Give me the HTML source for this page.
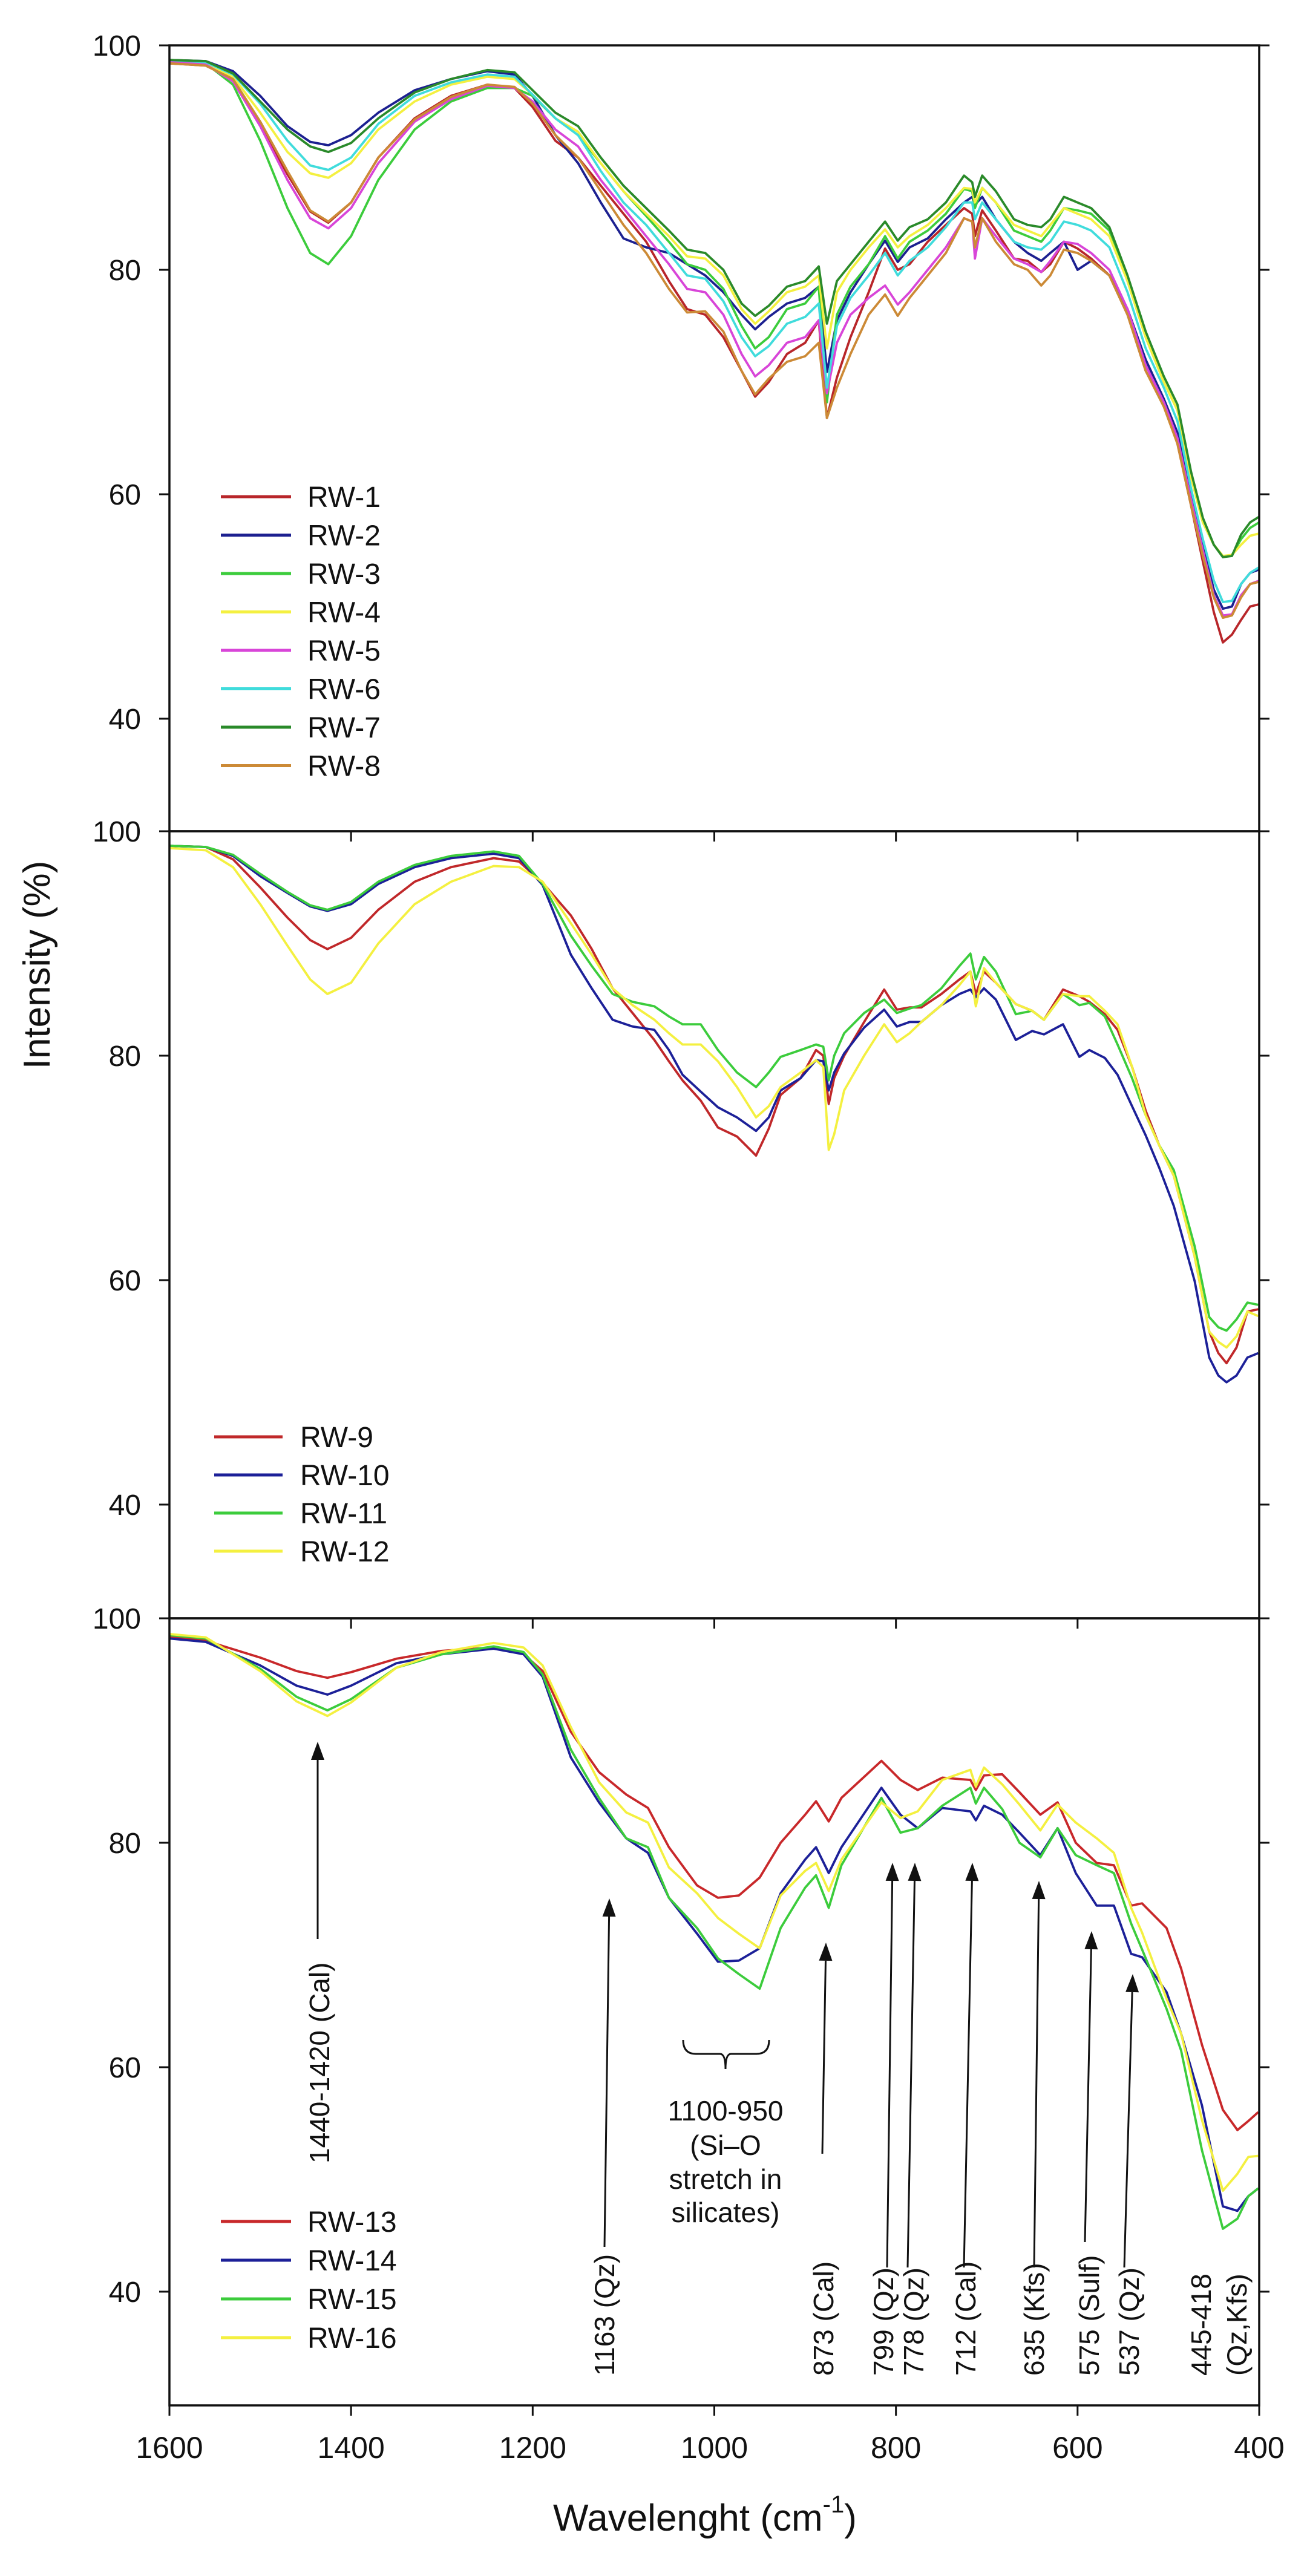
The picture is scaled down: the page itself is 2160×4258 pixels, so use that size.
<!DOCTYPE html>
<html>
<head>
<meta charset="utf-8">
<style>
  html, body { margin:0; padding:0; background:#fff; }
  svg { display:block; font-family:"Liberation Sans", Arial, sans-serif; }
</style>
</head>
<body>
<svg id="chart" xmlns="http://www.w3.org/2000/svg" width="2160" height="4258" viewBox="0 0 2160 4258">
  <rect x="0" y="0" width="2160" height="4258" fill="#fff"/>
  <g id="marks"></g>
  <text x="0" y="0" transform="translate(82,1595) rotate(-90)" text-anchor="middle" font-size="62" fill="#111">Intensity (%)</text>
  <text x="914" y="4183" font-size="62" fill="#111">Wavelenght (cm<tspan font-size="40" dy="-30">-1</tspan><tspan dy="30">)</tspan></text>
</svg>
<script>
// ---------- data ----------
const panel1Wavenumbers = [1600,1560,1530,1500,1470,1445,1425,1400,1370,1330,1290,1250,1220,1200,1175,1150,1125,1100,1075,1050,1030,1010,990,970,955,940,920,900,885,876,865,850,830,812,798,785,765,745,725,716,713,705,690,670,655,640,630,615,600,585,565,545,525,505,490,475,462,450,440,430,420,410,400];
const rw1 = [98.4,98.2,97,93,88.5,85.2,84.2,86,90,93.5,95.5,96.5,96.2,94.5,91.5,90,87.5,85,82.5,79,76.5,76,74,71,68.7,70,72.5,73.5,75.5,66.8,70.4,74,78,81.9,80,80.5,82.5,84,85.5,85,83,85.3,83.5,81,80.8,79.8,80.5,82.5,81.9,81,79.5,76,71,68,64.5,59,54,49.5,46.8,47.5,48.8,50,50.2];
const rw2 = [98.7,98.6,97.7,95.5,92.8,91.4,91.1,92,94,96,97,97.7,97.4,95.5,92,89.5,86,82.8,82,81.5,80.5,79.5,78,76,74.7,75.8,77,77.5,78.5,70.9,75.5,78,80.5,82.6,80.7,82,82.8,84.5,86,86.5,85.8,86.5,84.5,82.5,81.5,80.8,81.5,82.5,80,80.8,79.5,76.5,72,68.5,65.5,60,55.5,51.5,49.8,50,52,53,53.3];
const rw3 = [98.6,98.4,96.5,91.5,85.5,81.5,80.5,83,88,92.5,95,96.2,96.2,95.5,93.5,92,89.5,87,84.8,82.5,80.5,80,78.3,75,73,74,76.5,77,78.5,68.2,76,78.5,80.5,83,81,82.5,83.5,85,87.2,87,85.5,87.3,86,83.5,83,82.5,83.5,85.5,85.3,85,83.5,79,74,70,67.5,61.5,57.5,55.5,54.4,54.6,56,57,57.5];
const rw4 = [98.6,98.4,97.2,94,90.5,88.6,88.2,89.5,92.5,95,96.5,97.2,97,95.6,93.5,92.3,89.5,87,85,83,81.2,81,79.5,76.5,75.2,76.3,78,78.5,79.5,73,78,80,82,83.6,82,83,84,85.5,87.3,87.2,86,87.3,86,84,83.5,83,84,85.5,85,84.5,83,79,74,70,67.5,61.5,57.5,55.5,54.5,54.6,55.5,56.3,56.5];
const rw5 = [98.6,98.3,96.8,92.8,88,84.6,83.7,85.5,89.5,93.2,95.2,96.4,96.2,95,92.5,91,88,85.5,83,80.5,78.3,78,76,72.5,70.5,71.5,73.5,74,75.5,69,73.5,76,77.5,78.6,76.9,78,80,82,84.6,84.3,81,84.6,83,81,80.5,79.8,80.8,82.5,82.3,81.5,80,76.5,71.5,68.2,65,59.5,55,51,49.2,49.3,51,52,52.3];
const rw6 = [98.7,98.5,97.4,94.8,91.5,89.3,88.9,90,93,95.5,96.7,97.4,97.2,95.6,93.5,92,88.8,86,84,81.5,79.5,79.2,77.2,74,72.3,73.2,75.2,75.8,77,69.5,75,77.5,79.5,81.5,79.5,80.8,82,83.8,86,86,84.5,86,84.5,82.5,82,81.8,82.5,84.3,84,83.5,82,78,73,69.5,66.5,60.5,56,52.3,50.4,50.5,52,53,53.5];
const rw7 = [98.7,98.6,97.5,95,92.5,91,90.5,91.3,93.5,95.8,97,97.8,97.6,96,94,92.8,90,87.5,85.5,83.5,81.8,81.5,80,77,75.9,76.8,78.5,79,80.3,75.2,79,80.5,82.5,84.3,82.6,83.8,84.5,86,88.4,87.8,86.5,88.4,87,84.5,84,83.8,84.5,86.5,86,85.5,83.8,79.5,74.5,70.5,68,62,57.9,55.5,54.4,54.5,56.4,57.5,58];
const rw8 = [98.4,98.2,97,93.2,88.8,85.3,84.3,86,90,93.4,95.4,96.5,96.3,94.8,92,90,87,84,81.5,78.3,76.2,76.3,74.5,71,68.9,70.3,71.8,72.3,73.5,66.8,69.5,72.5,76,77.8,75.9,77.5,79.5,81.5,84.6,84.3,82,84.6,82.5,80.5,80,78.6,79.5,81.8,81.5,80.8,79.5,76,71,67.8,64.5,59,54.5,50.8,49,49.2,50.8,52,52.2];

const panel2Wavenumbers = [1600,1560,1530,1500,1470,1445,1426,1400,1370,1330,1290,1243,1215,1189,1158,1135,1112,1090,1066,1050,1035,1015,996,975,954,940,927,905,888,880,874,868,857,835,813,799,785,772,750,730,718,712,703,690,668,650,637,616,598,587,570,556,540,525,510,494,471,455,445,436,425,413,401];
const rw9 = [98.7,98.6,97.5,95,92.3,90.3,89.5,90.5,93,95.5,96.8,97.6,97.3,95.4,92.5,89.5,86,83.8,81.4,79.5,77.8,76,73.6,72.8,71.1,73.5,76.5,78,80.5,80,75.7,78,80,83,85.9,84.1,84.3,84.3,85.5,86.8,87.5,85.5,87.5,86.5,84.6,84,83.2,85.9,85.3,84.8,83.7,82.3,79,75.1,72,69.3,62.1,55.4,53.5,52.6,54,57.2,57.4];
const rw10 = [98.7,98.6,97.8,96,94.5,93.3,92.9,93.5,95.3,96.8,97.6,98,97.6,95.2,89,86,83.2,82.6,82.3,80.5,78.3,76.8,75.4,74.5,73.3,74.5,76.9,78,79.6,79.5,76.9,78.5,80.2,82.5,84.1,82.6,83,83,84.5,85.5,85.9,85.2,86,85,81.4,82.2,81.9,82.8,79.9,80.5,79.8,78.3,75.5,72.9,70,66.6,59.9,53.1,51.5,50.9,51.5,53.1,53.5];
const rw11 = [98.7,98.6,97.9,96.2,94.6,93.4,93,93.7,95.5,97,97.8,98.2,97.8,95.3,90.7,88,85.5,84.8,84.4,83.5,82.8,82.8,80.5,78.5,77.2,78.5,79.9,80.5,81,80.8,77.8,80,82,83.8,85,83.8,84.2,84.5,86,88,89.1,86.8,88.8,87.5,83.7,84,83.2,85.5,84.5,84.7,83.5,81,78,74.7,72,69.8,63,56.7,55.8,55.5,56.5,58,57.8];
const rw12 = [98.5,98.3,96.8,93.5,89.8,86.8,85.5,86.5,90,93.5,95.5,96.9,96.8,95.5,91.8,89,86,84.5,83.2,82,81,81,79.5,77.2,74.5,75.5,77.2,78.5,79.6,79,71.6,73,76.9,80,82.8,81.2,82,83,84.5,86.3,87.5,84.4,87.8,86.5,84.6,84,83.2,85.5,85.3,85.3,84,82.8,79,74.7,72,69.3,62.1,55.4,54.5,54,55,57.2,56.8];

const panel3Wavenumbers = [1600,1560,1500,1460,1426,1400,1350,1300,1243,1210,1189,1158,1127,1097,1073,1050,1019,996,973,950,927,900,888,874,860,816,795,776,749,718,712,703,683,664,641,622,602,579,560,541,529,502,486,463,440,424,412,401];
const rw13 = [98.4,98,96.5,95.3,94.7,95.2,96.4,97.1,97.4,96.8,95.3,89.9,86.3,84.3,83.1,79.6,76.2,75.1,75.3,76.9,80,82.5,83.7,81.9,84,87.3,85.6,84.7,85.8,85.6,84.7,86,86.1,84.5,82.5,83.6,80,78.2,78,74.4,74.6,72.4,68.8,62,56.2,54.4,55.2,56];
const rw14 = [98.2,97.9,95.8,94,93.2,94,96,96.8,97.3,96.8,94.8,87.6,83.6,80.4,79.1,75.1,71.9,69.4,69.5,70.6,75.5,78.5,79.6,77.3,79.6,84.9,82.5,81.3,83.1,82.8,82,83.3,82.5,80.9,78.9,81.3,77.3,74.4,74.4,70.1,69.8,66.7,63,56.6,47.6,47.2,48.5,49.2];
const rw15 = [98.5,98.2,95.5,93,91.8,92.8,95.6,96.8,97.5,97,95,88.3,84,80.4,79.6,75.1,72.4,69.7,68.3,67,72.4,76,77.1,74.2,78,84,80.9,81.3,83.3,84.9,83.5,84.9,83,80,78.7,81.3,78.9,78,77.3,72.8,70.5,65.2,61.5,52.6,45.6,46.5,48.5,49.2];
const rw16 = [98.6,98.3,95.3,92.6,91.3,92.5,95.6,97,97.8,97.4,95.8,90.3,85.4,82.7,81.8,77.8,75.5,73.3,71.9,70.6,75.3,77.5,78.2,75.7,78.5,83.6,82.2,82.8,85.6,86.5,85,86.7,85.2,83.4,81.1,83.4,81.8,80.4,79.1,74.2,72,66.1,63,55.3,49,50.5,52,52.1];

const yTickValues = [40, 60, 80, 100];
const xTickValues = [1600, 1400, 1200, 1000, 800, 600, 400];
const xTickLabels = ["1600", "1400", "1200", "1000", "800", "600", "400"];

// ---------- layout ----------
const NS = "http://www.w3.org/2000/svg";
const marks = document.getElementById("marks");
const X0 = 280, X1 = 2081, PXU = 18.55;
function xScale(w) { return X0 + (1600 - w) * (X1 - X0) / 1200; }
function mk(tag, attrs, parent) {
  const el = document.createElementNS(NS, tag);
  for (const k in attrs) el.setAttribute(k, attrs[k]);
  (parent || marks).appendChild(el);
  return el;
}

const panels = [
  { top: 75, bottom: 1374, name: "panel-1", W: panel1Wavenumbers,
    series: [["RW-1", rw1, "#b8262a"], ["RW-2", rw2, "#1c2090"], ["RW-3", rw3, "#3ccc3c"], ["RW-4", rw4, "#f4f040"],
             ["RW-5", rw5, "#d845d8"], ["RW-6", rw6, "#40dcdc"], ["RW-7", rw7, "#2a8a2a"], ["RW-8", rw8, "#cc8a36"]],
    legY: 821, legStep: 63.5, lx0: 365, lx1: 481, tx: 508 },
  { top: 1374, bottom: 2675, name: "panel-2", W: panel2Wavenumbers,
    series: [["RW-9", rw9, "#c0282a"], ["RW-10", rw10, "#1c2098"], ["RW-11", rw11, "#3ccc3c"], ["RW-12", rw12, "#f4f040"]],
    legY: 2375, legStep: 63, lx0: 354, lx1: 467, tx: 496 },
  { top: 2675, bottom: 3976, name: "panel-3", W: panel3Wavenumbers,
    series: [["RW-13", rw13, "#c8282a"], ["RW-14", rw14, "#1c2098"], ["RW-15", rw15, "#3ccc3c"], ["RW-16", rw16, "#f4f040"]],
    legY: 3672, legStep: 64, lx0: 365, lx1: 481, tx: 508 }
];

panels.forEach(function(p, pi) {
  const g = mk("g", {});
  
  
  const yS = function(v) { return p.top + (100 - v) * PXU; };
  p.series.forEach(function(s) {
    const pts = p.W.map(function(w, i) { return xScale(w).toFixed(1) + "," + yS(s[1][i]).toFixed(1); }).join(" ");
    const pl = mk("polyline", { points: pts, fill: "none", stroke: s[2], "stroke-width": 3.8, "stroke-linejoin": "round" }, g);
    
    
  });
  const fr = mk("rect", { x: X0, y: p.top, width: X1 - X0, height: p.bottom - p.top, fill: "none", stroke: "#111", "stroke-width": 3.5 }, g);
  
  
  yTickValues.forEach(function(v) {
    const y = yS(v);
    mk("line", { x1: X0 - 17, y1: y, x2: X0, y2: y, stroke: "#111", "stroke-width": 3 }, g);
    mk("line", { x1: X1, y1: y, x2: X1 + 17, y2: y, stroke: "#111", "stroke-width": 3 }, g);
    const t = mk("text", { x: 233, y: y + 17, "text-anchor": "end", "font-size": 48, fill: "#111" }, g);
    t.textContent = String(v);
    
    
  });
  xTickValues.forEach(function(w, i) {
    const x = xScale(w);
    mk("line", { x1: x, y1: p.bottom, x2: x, y2: p.bottom + 17, stroke: "#111", "stroke-width": 3 }, g);
    if (pi === 2) {
      const t = mk("text", { x: x, y: 4063, "text-anchor": "middle", "font-size": 50, fill: "#111" }, g);
      t.textContent = xTickLabels[i];
      
      
    }
  });
  p.series.forEach(function(s, i) {
    const y = p.legY + i * p.legStep;
    const ln = mk("line", { x1: p.lx0, y1: y, x2: p.lx1, y2: y, stroke: s[2], "stroke-width": 5 }, g);
    
    
    const t = mk("text", { x: p.tx, y: y + 17, "font-size": 48, fill: "#111" }, g);
    t.textContent = s[0];
    
    
  });
});

// ---------- annotations (panel 3) ----------
const annLabels = ["1440-1420 (Cal)", "1163 (Qz)", "873 (Cal)", "799 (Qz)", "778 (Qz)", "712 (Cal)", "635 (Kfs)", "575 (Sulf)", "537 (Qz)"];
const ann = mk("g", {});


const arrows = [
  [525, 3205, 525, 2879, 528, 3576],
  [999, 3714, 1007, 3138, 999, 3927],
  [1359, 3560, 1365, 3211, 1361, 3927],
  [1466, 3748, 1475, 3079, 1460, 3927],
  [1500, 3748, 1512, 3079, 1510, 3927],
  [1593, 3748, 1607, 3079, 1596, 3927],
  [1709, 3748, 1717, 3109, 1709, 3927],
  [1793, 3706, 1804, 3192, 1800, 3927],
  [1858, 3748, 1872, 3263, 1866, 3927]
];
arrows.forEach(function(a, i) {
  const dx = a[2] - a[0], dy = a[3] - a[1];
  const len = Math.sqrt(dx * dx + dy * dy), ux = dx / len, uy = dy / len;
  const bx = a[2] - ux * 30, by = a[3] - uy * 30;
  mk("line", { x1: a[0], y1: a[1], x2: bx, y2: by, stroke: "#111", "stroke-width": 3 }, ann);
  const head = mk("polygon", { points: a[2] + "," + a[3] + " " + (bx - uy * 11) + "," + (by + ux * 11) + " " + (bx + uy * 11) + "," + (by - ux * 11), fill: "#111" }, ann);
  
  
  const t = mk("text", { x: 0, y: 0, transform: "translate(" + (a[4] + 16) + "," + a[5] + ") rotate(-90)", "font-size": 46, fill: "#111" }, ann);
  t.textContent = annLabels[i];
  
  
});
[["445-418", 1985], ["(Qz,Kfs)", 2044]].forEach(function(l) {
  const t = mk("text", { x: 0, y: 0, transform: "translate(" + (l[1] + 16) + ",3927) rotate(-90)", "font-size": 46, fill: "#111" }, ann);
  t.textContent = l[0];
  
  
});
const br = mk("path", { d: "M1129,3372 Q1129,3395 1150,3395 L1190,3395 Q1199,3395 1199,3420 Q1199,3395 1208,3395 L1250,3395 Q1271,3395 1271,3372", fill: "none", stroke: "#111", "stroke-width": 3 }, ann);


[["1100-950", 3505], ["(Si\u2013O", 3562], ["stretch in", 3618], ["silicates)", 3673]].forEach(function(l) {
  const t = mk("text", { x: 1199, y: l[1], "text-anchor": "middle", "font-size": 46, fill: "#111" }, ann);
  t.textContent = l[0];
  
  
});
</script>
</body>
</html>
